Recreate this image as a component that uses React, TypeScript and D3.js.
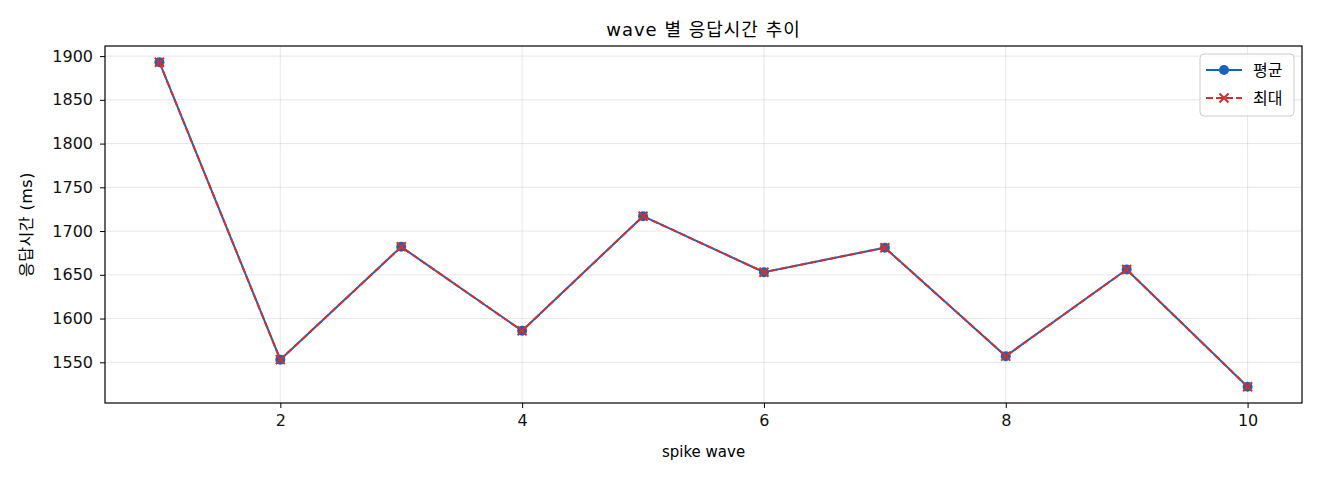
import { useEffect, useRef } from "react";
import * as d3 from "d3";

const waves = [1, 2, 3, 4, 5, 6, 7, 8, 9, 10];
const avgMs = [1893, 1553, 1682, 1586, 1717, 1653, 1681, 1557, 1656, 1522];
const maxMs = [1893, 1553, 1682, 1586, 1717, 1653, 1681, 1557, 1656, 1522];
const xTicks = [2, 4, 6, 8, 10];
const yTicks = [1550, 1600, 1650, 1700, 1750, 1800, 1850, 1900];

const FONT = "'DejaVu Sans', 'Noto Sans CJK KR', sans-serif";
const BLUE = "#1565c0";
const RED = "#d32f2f";

export default function App() {
  const svgRef = useRef<SVGSVGElement>(null);

  useEffect(() => {
    if (!svgRef.current) return;
    const svg = d3.select(svgRef.current);
    svg.selectAll("*").remove();

    const W = 1320;
    const H = 480;
    const margin = { top: 46, right: 18, bottom: 77, left: 105 };
    const width = W - margin.left - margin.right;
    const height = H - margin.top - margin.bottom;

    svg.append("rect").attr("width", W).attr("height", H).attr("fill", "#fff");

    const g = svg
      .append("g")
      .attr("transform", `translate(${margin.left},${margin.top})`);

    // matplotlib style 5% margins
    const xScale = d3.scaleLinear().domain([0.55, 10.45]).range([0, width]);
    const all = [...avgMs, ...maxMs];
    const lo = d3.min(all)!;
    const hi = d3.max(all)!;
    const pad = (hi - lo) * 0.05;
    const yScale = d3
      .scaleLinear()
      .domain([lo - pad, hi + pad])
      .range([height, 0]);

    // Grid
    g.selectAll(".gx")
      .data(xTicks)
      .enter()
      .append("line")
      .attr("x1", (d) => xScale(d))
      .attr("x2", (d) => xScale(d))
      .attr("y1", 0)
      .attr("y2", height)
      .attr("stroke", "#b0b0b0")
      .attr("stroke-opacity", 0.3)
      .attr("stroke-width", 1);
    g.selectAll(".gy")
      .data(yTicks)
      .enter()
      .append("line")
      .attr("x1", 0)
      .attr("x2", width)
      .attr("y1", (d) => yScale(d))
      .attr("y2", (d) => yScale(d))
      .attr("stroke", "#b0b0b0")
      .attr("stroke-opacity", 0.3)
      .attr("stroke-width", 1);

    // Axes
    const xAxis = g
      .append("g")
      .attr("transform", `translate(0,${height})`)
      .call(
        d3.axisBottom(xScale).tickValues(xTicks).tickFormat(d3.format("d")).tickSize(5).tickPadding(7)
      );
    const yAxis = g
      .append("g")
      .call(
        d3.axisLeft(yScale).tickValues(yTicks).tickFormat(d3.format("d")).tickSize(5).tickPadding(7)
      );
    [xAxis, yAxis].forEach((a) => {
      a.select(".domain").remove();
      a.selectAll("line").attr("stroke", "#000").attr("stroke-width", 1);
      a.selectAll("text")
        .style("font-family", FONT)
        .style("font-size", "16px")
        .style("fill", "#111");
    });

    // Frame
    g.append("rect")
      .attr("width", width)
      .attr("height", height)
      .attr("fill", "none")
      .attr("stroke", "#000")
      .attr("stroke-width", 1.2);

    const line = d3
      .line<number>()
      .x((_, i) => xScale(waves[i]))
      .y((d) => yScale(d));

    // 평균
    g.append("path")
      .datum(avgMs)
      .attr("d", line)
      .attr("fill", "none")
      .attr("stroke", BLUE)
      .attr("stroke-width", 2);
    g.selectAll(".dot")
      .data(avgMs)
      .enter()
      .append("circle")
      .attr("cx", (_, i) => xScale(waves[i]))
      .attr("cy", (d) => yScale(d))
      .attr("r", 5)
      .attr("fill", BLUE);

    // 최대
    g.append("path")
      .datum(maxMs)
      .attr("d", line)
      .attr("fill", "none")
      .attr("stroke", RED)
      .attr("stroke-width", 2)
      .attr("stroke-dasharray", "7,3");
    const cross = (sel: d3.Selection<SVGGElement, unknown, null, undefined>, cx: number, cy: number, s: number) => {
      sel
        .append("path")
        .attr("d", `M${cx - s},${cy - s}L${cx + s},${cy + s}M${cx - s},${cy + s}L${cx + s},${cy - s}`)
        .attr("stroke", RED)
        .attr("stroke-width", 2)
        .attr("fill", "none");
    };
    const crosses = g.append("g");
    maxMs.forEach((d, i) => cross(crosses, xScale(waves[i]), yScale(d), 4.5));

    // Title & labels
    svg
      .append("text")
      .attr("x", margin.left + width / 2)
      .attr("y", 36)
      .attr("text-anchor", "middle")
      .style("font-family", FONT)
      .style("font-size", "18px")
      .style("letter-spacing", "1px")
      .text("wave 별 응답시간 추이");
    svg
      .append("text")
      .attr("x", margin.left + width / 2)
      .attr("y", 457)
      .attr("text-anchor", "middle")
      .style("font-family", FONT)
      .style("font-size", "15px")
      .text("spike wave");
    svg
      .append("text")
      .attr("transform", `translate(32,${margin.top + height / 2}) rotate(-90)`)
      .attr("text-anchor", "middle")
      .style("font-family", FONT)
      .style("font-size", "16px")
      .style("letter-spacing", "0.5px")
      .text("응답시간 (ms)");

    // Legend
    const lg = svg.append("g").attr("transform", "translate(1200,54)");
    lg.append("rect")
      .attr("width", 94)
      .attr("height", 62)
      .attr("rx", 4)
      .attr("fill", "#fff")
      .attr("fill-opacity", 0.8)
      .attr("stroke", "#cccccc");
    lg.append("line")
      .attr("x1", 6).attr("x2", 42).attr("y1", 16).attr("y2", 16)
      .attr("stroke", BLUE).attr("stroke-width", 2);
    lg.append("circle").attr("cx", 24).attr("cy", 16).attr("r", 5).attr("fill", BLUE);
    lg.append("line")
      .attr("x1", 6).attr("x2", 42).attr("y1", 44).attr("y2", 44)
      .attr("stroke", RED).attr("stroke-width", 2).attr("stroke-dasharray", "7,3");
    cross(lg, 24, 44, 4.5);
    lg.append("text")
      .attr("x", 53).attr("y", 22)
      .style("font-family", FONT).style("font-size", "16px")
      .text("평균");
    lg.append("text")
      .attr("x", 53).attr("y", 50)
      .style("font-family", FONT).style("font-size", "16px")
      .text("최대");
  }, []);

  return (
    <svg
      ref={svgRef}
      width="1320"
      height="480"
      style={{ position: "absolute", left: 0, top: 0, display: "block" }}
    />
  );
}
